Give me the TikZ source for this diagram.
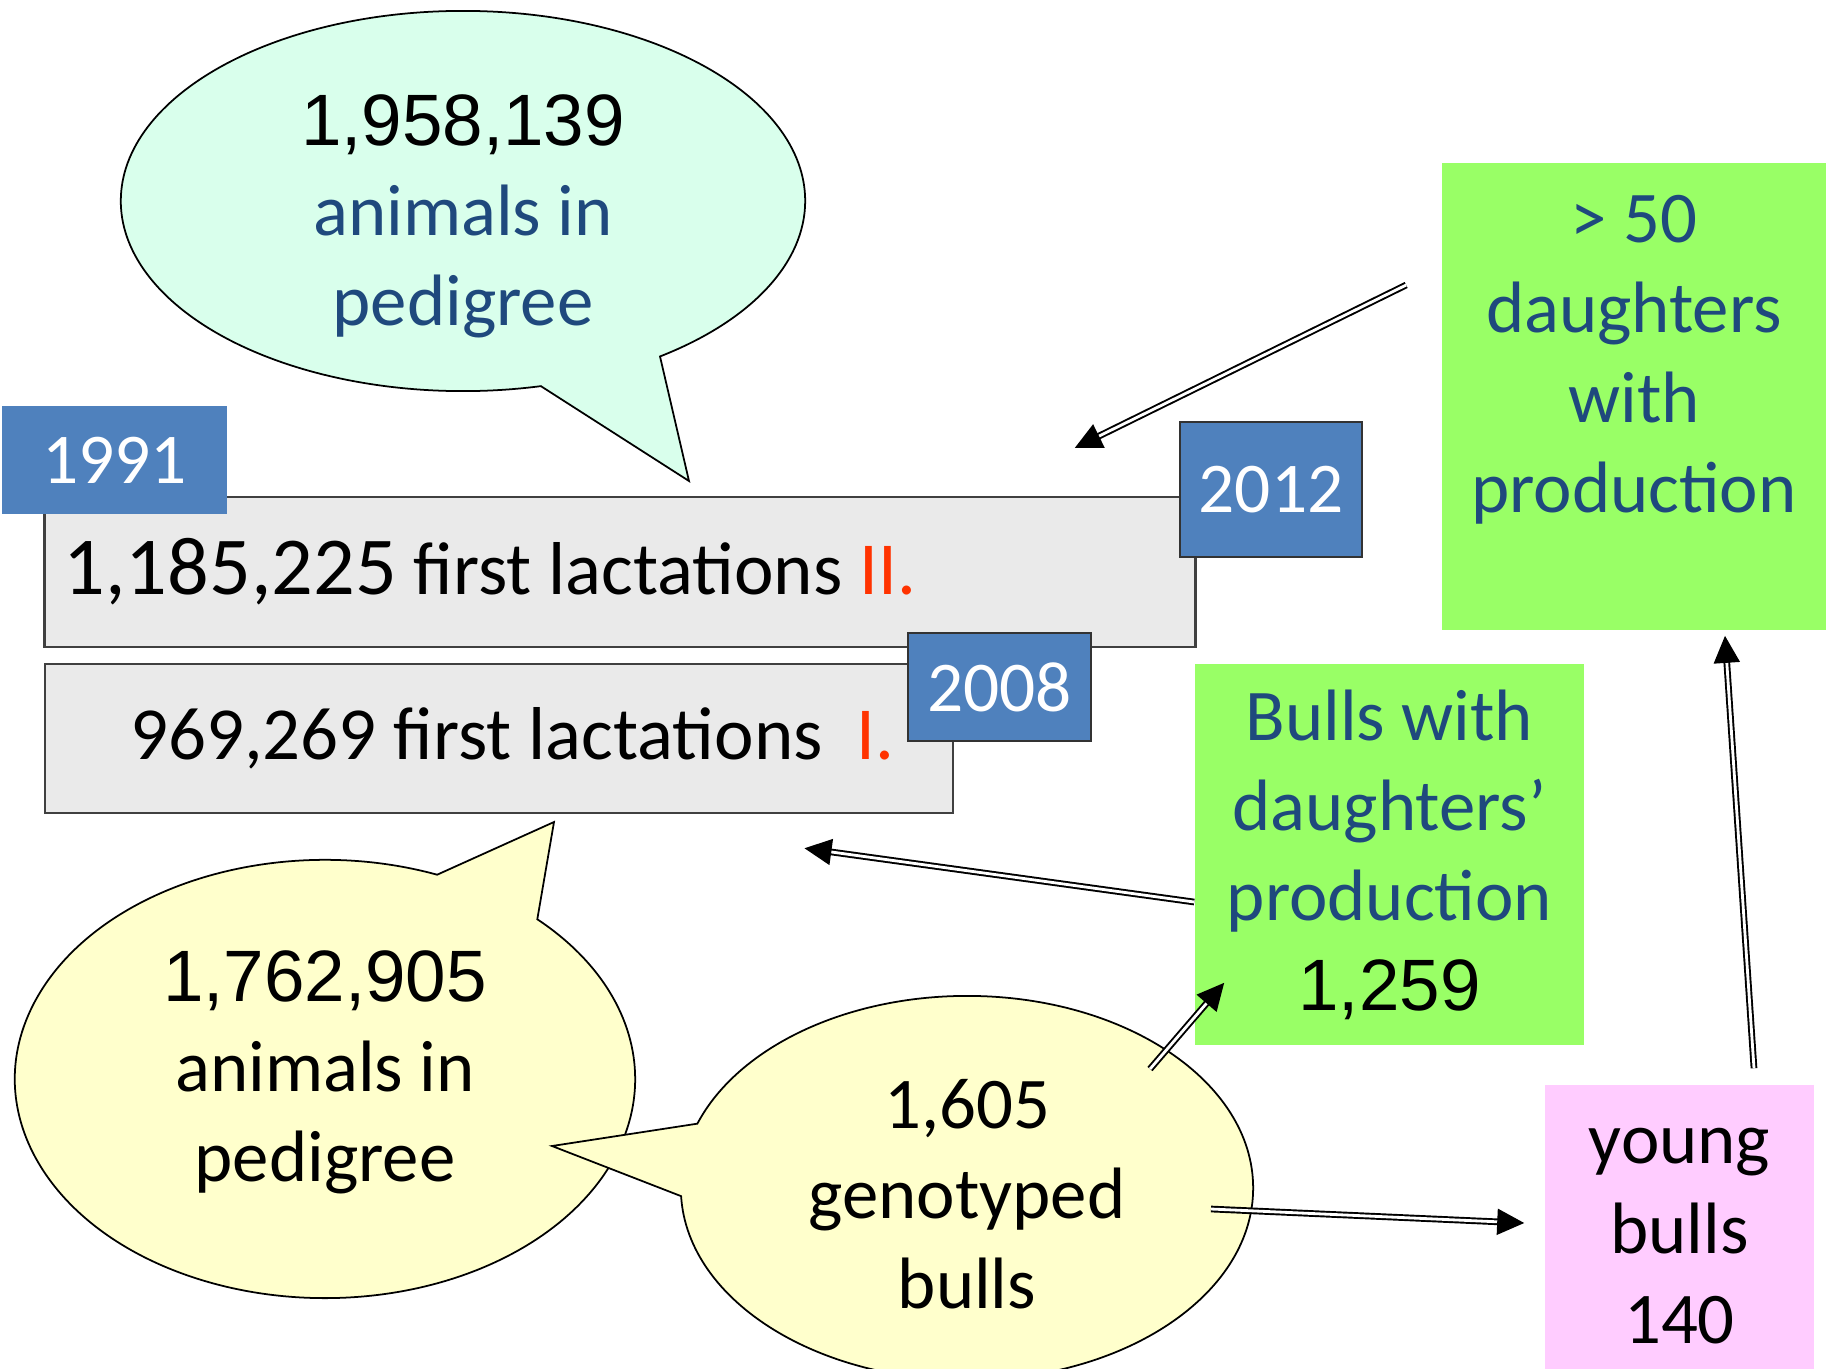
\documentclass[tikz,border=0pt]{standalone}
\usepackage{fontspec}
\setmainfont{Carlito}
\newfontfamily\arialfont{Liberation Sans}
\usepackage{xcolor}
\usetikzlibrary{arrows.meta,positioning,shapes.callouts}

\definecolor{mintfill}{RGB}{217,255,236}
\definecolor{creamfill}{RGB}{255,255,204}
\definecolor{limefill}{RGB}{153,255,102}
\definecolor{pinkfill}{RGB}{255,204,255}
\definecolor{yearblue}{RGB}{79,129,189}
\definecolor{greyfill}{RGB}{234,234,234}
\definecolor{navytext}{RGB}{31,73,125}
\definecolor{romanred}{RGB}{255,51,0}

\begin{document}
\begin{tikzpicture}[
  x=0.01cm, y=0.01cm,
  every node/.style={font=\fontsize{20.7}{25.6}\selectfont, align=center},
  bubble/.style={ellipse callout, draw=black, line width=0.5pt,
    inner sep=0pt, callout pointer arc=22},
  lactbox/.style={rectangle, draw=black!75, line width=0.7pt,
    fill=greyfill, inner ysep=0pt, font=\fontsize{21.3}{26}\selectfont},
  yearbox/.style={rectangle, fill=yearblue, text=white, inner sep=0pt,
    font=\fontsize{20.3}{24}\selectfont},
  greenbox/.style={rectangle, fill=limefill, inner sep=0pt},
  pinkbox/.style={rectangle, fill=pinkfill, inner sep=0pt},
  bluetxt/.style={text=navytext},
  dblarr/.style={double, double distance=0.8pt, line width=0.55pt,
    -{Triangle[length=0.27cm, width=0.26cm]}},
]
\useasboundingbox (0,0) rectangle (1826,-1369);

% === Callouts ===
\node[bubble, fill=mintfill, minimum width=6.84cm, minimum height=3.8cm,
  callout absolute pointer={(689,-481)}] (pedtop) at (463,-201) {};
\node[bluetxt, inner sep=0pt] (pedtoptxt) at ([yshift=-0.15cm]pedtop.center)
  {{\arialfont\color{black}1,958,139}\\animals in\\pedigree};

\node[bubble, fill=creamfill, minimum width=6.2cm, minimum height=4.38cm,
  callout absolute pointer={(554,-822)}] (pedlow) at (325,-1079) {};
\node[inner sep=0pt] (pedlowtxt) at ([yshift=0.07cm]pedlow.center)
  {{\arialfont 1,762,905}\\animals in\\pedigree};

\node[bubble, fill=creamfill, minimum width=5.72cm, minimum height=3.84cm,
  callout absolute pointer={(552,-1146)}] (geno) at (967,-1188) {};
\node[inner sep=0pt] (genotxt) at ([yshift=-0.06cm]geno.center)
  {1,605\\genotyped\\bulls};

% === Lactation boxes ===
\node[lactbox, align=flush left, text width=11.12cm, inner xsep=0.19cm, minimum height=1.5cm]
  (lact2) at (620,-572)
  {{\fontsize{23.4}{26}\selectfont 1,185,225} first lactations \textcolor{romanred}{II.}};

\node[lactbox, align=flush right, text width=7.9cm, inner xsep=0.59cm, minimum height=1.49cm]
  (lact1) at (499,-738.5)
  {969,269 first lactations~~\textcolor{romanred}{I.}};

% === Years ===
\node[yearbox, minimum width=2.25cm, minimum height=1.08cm] (y1991) at (114.5,-460) {1991};
\node[yearbox, draw=black!80, line width=0.7pt, minimum width=1.82cm, minimum height=1.35cm]
  (y2012) at (1271,-489.5) {2012};
\node[yearbox, draw=black!80, line width=0.7pt, minimum width=1.83cm, minimum height=1.08cm]
  (y2008) at (999.5,-687) {2008};

% === Bull groups ===
\node[greenbox, minimum width=3.84cm, minimum height=4.67cm] (fifty) at (1634,-396.5) {};
\node[bluetxt, inner sep=0pt, below=0.32cm of fifty.north] (fiftytxt)
  {> 50\\daughters\\with\\production};

\node[greenbox, bluetxt, minimum width=3.89cm, minimum height=3.81cm] (bulls) at (1389.5,-854.5)
  {Bulls with\\daughters’\\production\\{\arialfont\color{black}1,259}};

\node[pinkbox, minimum width=2.69cm, minimum height=3.05cm] (young) at (1679.5,-1237.5) {};
\node[inner sep=0pt, below=0.43cm of young.north] (youngtxt) {young\\bulls\\140};

% === Arrows ===
\draw[dblarr] ([shift={(-35,111.5)}]fifty.west) -- ([shift={(-104,41.5)}]y2012.west);
\draw[dblarr] ([shift={(0,-47.5)}]bulls.west) -- ([shift={(-150,-34)}]lact1.south east);
\draw[dblarr] ([shift={(183,119)}]geno.center) -- ([shift={(30,63)}]bulls.south west);
\draw[dblarr] ([shift={(244,-21)}]geno.center) -- ([shift={(-20,14.5)}]young.west);
\draw[dblarr] ([shift={(74.5,16)}]young.north) -- ([shift={(91,-5)}]fifty.south);

\end{tikzpicture}
\end{document}
